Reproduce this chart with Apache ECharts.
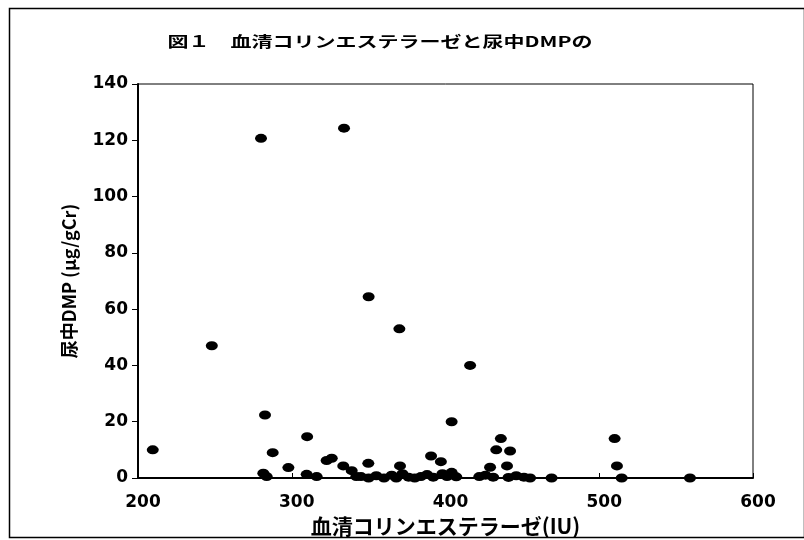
<!DOCTYPE html>
<html>
<head>
<meta charset="utf-8">
<script src="https://cdn.jsdelivr.net/npm/echarts@6/dist/echarts.min.js"></script>
<style>
  html, body { margin: 0; padding: 0; background: #fff; }
  #chart { width: 804px; height: 540px; }
</style>
</head>
<body>
<div id="chart"></div>
<script>
// 血清コリンエステラーゼ (IU)
const cholinesterase = [
  280, 334, 350, 248, 370, 416,
  282.6, 310, 287.6, 209.6, 404, 436, 433, 442, 390.6, 397, 510, 511.5,
  370.4, 429, 440, 349.8, 322.7, 326, 333.5, 339, 342, 297.8, 281.5, 283.7,
  309.7, 316.2, 514.6, 559, 469,
  345, 350, 355, 360, 365, 368, 372, 376, 380, 384, 388, 392, 398, 401, 404, 407,
  422, 426, 431, 441, 446, 451, 455
]
// 尿中DMP (μg/gCr)
const dmp = [
  120.7, 124.3, 64.4, 47, 53, 40,
  22.4, 14.7, 9, 10, 20, 14, 10, 9.6, 7.8, 5.8, 14, 4.3,
  4.3, 3.8, 4.3, 5.2, 6.2, 7, 4.3, 2.6, 0.5, 3.7, 1.7, 0.5,
  1.3, 0.5, 0, 0, 0,
  0.5, 0, 0.8, 0, 1, 0, 1.5, 0.3, 0, 0.5, 1.2, 0.3, 1.5, 0.5, 2, 0.4,
  0.5, 1, 0.3, 0.2, 0.8, 0.3, 0
]

const titleText = '図１　血清コリンエステラーゼと尿中DMPの'
const xName = '血清コリンエステラーゼ(IU)'
const yName = '尿中DMP (μg/gCr)'

const points = cholinesterase.map((x, i) => [x, dmp[i]])

const chart = echarts.init(document.getElementById('chart'))

const labelFont = {
  color: '#000',
  fontFamily: 'DejaVu Sans',
  fontWeight: 'bold',
  fontSize: 17
}

chart.setOption({
  backgroundColor: '#fff',
  animation: false,
  graphic: [
    {
      type: 'rect',
      left: 7,
      top: 6,
      shape: { width: 795, height: 529 },
      style: { fill: 'none', stroke: '#000', lineWidth: 1.5 },
      silent: true
    },
    {
      // 原図の文字は横長なので横方向に引き伸ばす
      type: 'text',
      x: 380,
      y: 41,
      scaleX: 1.4,
      style: {
        text: titleText,
        fill: '#000',
        font: 'bold 15px "Noto Sans CJK JP"',
        textAlign: 'center',
        textVerticalAlign: 'middle'
      }
    }
  ],
  grid: {
    left: 138,
    right: 51,
    top: 84,
    bottom: 62,
    outerBoundsMode: 'none',
    show: true,
    borderColor: '#000',
    borderWidth: 1
  },
  xAxis: {
    type: 'value',
    min: 200,
    max: 600,
    interval: 100,
    name: xName,
    nameLocation: 'middle',
    nameGap: 32,
    nameTextStyle: {
      color: '#000',
      fontFamily: 'Noto Sans CJK JP',
      fontWeight: 'bold',
      fontSize: 21
    },
    axisLine: { lineStyle: { color: '#000', width: 2 } },
    axisTick: { inside: true, length: 5, lineStyle: { color: '#000' } },
    axisLabel: Object.assign({ margin: 16, padding: [0, 0, 0, 10] }, labelFont),
    splitLine: { show: false }
  },
  yAxis: {
    type: 'value',
    min: 0,
    max: 140,
    interval: 20,
    name: yName,
    nameLocation: 'middle',
    nameGap: 60,
    nameTextStyle: {
      color: '#000',
      fontFamily: 'Noto Sans CJK JP',
      fontWeight: 'bold',
      fontSize: 18
    },
    axisLine: { lineStyle: { color: '#000', width: 2 } },
    axisTick: { length: 6, lineStyle: { color: '#000' } },
    axisLabel: Object.assign({ margin: 10 }, labelFont),
    splitLine: { show: false }
  },
  series: [
    {
      type: 'scatter',
      data: points,
      symbol: 'circle',
      symbolSize: [12, 9],
      itemStyle: { color: '#000', opacity: 1 }
    }
  ]
})
</script>
</body>
</html>
